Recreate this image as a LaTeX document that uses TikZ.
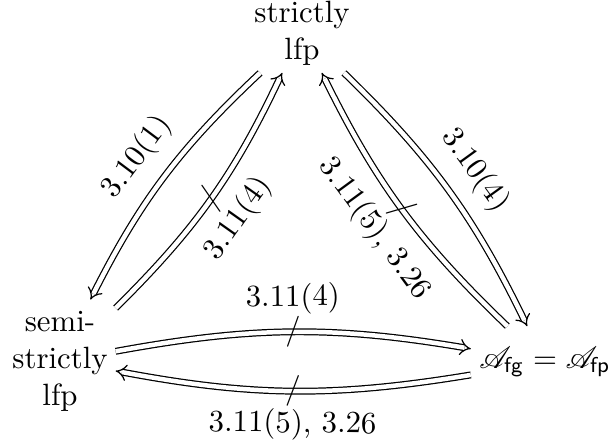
\documentclass[tikz,border=0pt]{standalone}
\usepackage{mathrsfs}
\usetikzlibrary{arrows.meta}
\begin{document}
\begin{tikzpicture}[x=0.3247pt, y=0.3247pt,
  obj/.style={align=center, inner sep=0pt},
  dbl/.style={double, double distance=1.45pt, line width=0.4pt, -{Implies}},
  lbl/.style={inner sep=5.7pt, sloped, pos=0.5},
  notmark/.style={sloped, pos=0.5, inner sep=0pt}]
\fill[white] (0,0) rectangle (610,447);
\useasboundingbox (0,0) rectangle (610,447);
\node[obj, inner xsep=2.4pt, inner ysep=2.3pt] (T) at (302,414) {strictly\\lfp};
\node[obj, inner xsep=2.4pt, inner ysep=3.5pt] (L) at (60,86) {semi-\\strictly\\lfp};
\node[obj, inner xsep=2.6pt, inner ysep=6.5pt] (R) at (545,85) {$\mathscr{A}_{\mathsf{fg}}=\mathscr{A}_{\mathsf{fp}}$};
\draw[dbl] (T) to[bend right=10] node[lbl, above] {3.10(1)} (L);
\draw[dbl] (L) to[bend right=10] node[lbl, below] {3.11(4)} node[notmark] {$/$} (T);
\draw[dbl] (T) to[bend left=10] node[lbl, above] {3.10(4)} (R);
\draw[dbl] (R) to[bend left=10] node[lbl, below] {3.11(5), 3.26} node[notmark] {$/$} (T);
\draw[dbl] (L) to[bend left=10] node[lbl, above] {3.11(4)} node[notmark] {$/$} (R);
\draw[dbl] (R) to[bend left=10] node[lbl, below] {3.11(5), 3.26} node[notmark] {$/$} (L);
\end{tikzpicture}
\end{document}
